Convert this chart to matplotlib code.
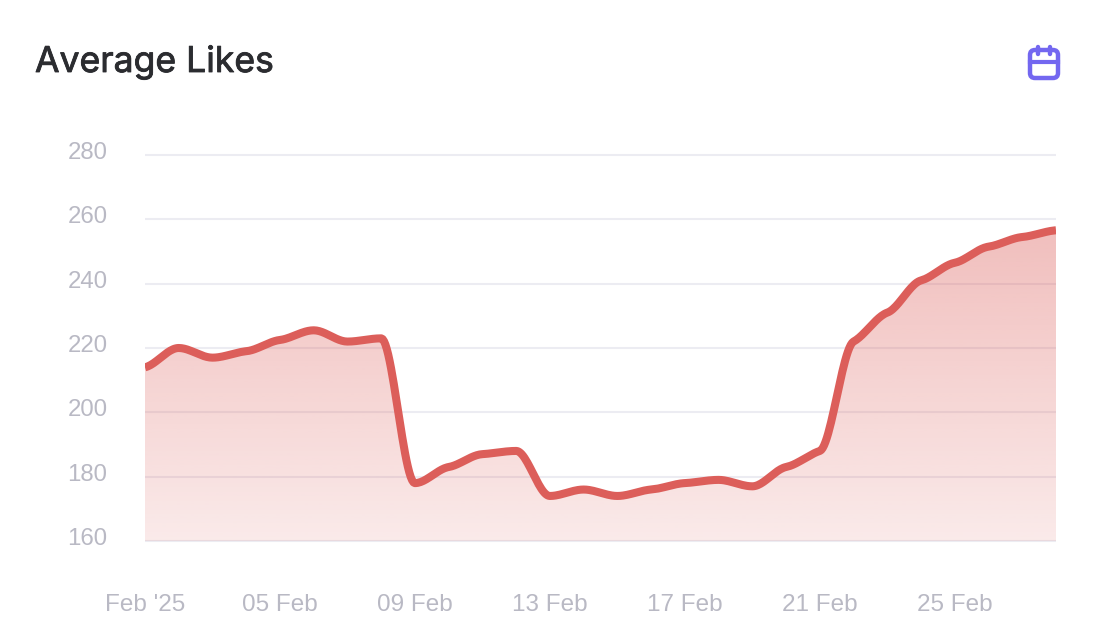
import numpy as np
import matplotlib
matplotlib.use("Agg")
import matplotlib.pyplot as plt
import matplotlib.patheffects as pe
from matplotlib.patches import FancyBboxPatch, PathPatch
from matplotlib.path import Path
from matplotlib.colors import to_rgb
from matplotlib.transforms import ScaledTranslation

days = list(range(1, 29))
likes = [214, 220, 217, 219, 222.5, 225.5, 222, 223, 178, 183, 187, 188, 174, 176,
         174, 176, 178, 179, 177, 183, 188, 222, 231, 241, 246.5, 251.5, 254.5, 256.6]
tick_days = [1, 5, 9, 13, 17, 21, 25]
tick_labels = ["Feb '25", "05 Feb", "09 Feb", "13 Feb", "17 Feb", "21 Feb", "25 Feb"]
y_ticks = [160, 180, 200, 220, 240, 260, 280]
title = "Average Likes"

W, H = 1112, 644
LINE = "#DC5E5A"
GRID = "#ECECF2"
LABEL = "#B9B9C4"
ICON = "#7367F0"
TITLE = "#2B2C30"


def smooth(x, y, tension=0.4, per=24):
    """Cubic curve through the points with shortened monotone tangents."""
    x, y = np.asarray(x, float), np.asarray(y, float)
    h = np.diff(x)
    s = np.diff(y) / h
    m = np.zeros_like(y)
    m[0], m[-1] = s[0], s[-1]
    for i in range(1, len(y) - 1):
        if s[i - 1] * s[i] > 0:
            m[i] = 2 * s[i - 1] * s[i] / (s[i - 1] + s[i])
    m = m * tension
    xs, ys = [], []
    for i in range(len(h)):
        t = np.linspace(0, 1, per, endpoint=False)
        a = (2 * t**3 - 3 * t**2 + 1) * y[i] + (t**3 - 2 * t**2 + t) * h[i] * m[i]
        b = (-2 * t**3 + 3 * t**2) * y[i + 1] + (t**3 - t**2) * h[i] * m[i + 1]
        xs.append(x[i] + t * h[i])
        ys.append(a + b)
    return np.r_[np.concatenate(xs), x[-1]], np.r_[np.concatenate(ys), y[-1]]


fig = plt.figure(figsize=(W / 100, H / 100), dpi=100, facecolor="white")
L, R, T, B = 145, 1056, 155, 541
ax = fig.add_axes([L / W, 1 - B / H, (R - L) / W, (B - T) / H])
ax.set_xlim(days[0], days[-1])
ax.set_ylim(y_ticks[0], y_ticks[-1])
for s in ax.spines.values():
    s.set_visible(False)

for v in y_ticks:
    ax.axhline(v, color=GRID, lw=1.5, zorder=1, clip_on=False, solid_capstyle="butt")

cx, cy = smooth(days, likes)

# Vertical gradient fill clipped to the area under the curve
rgb = to_rgb(LINE)
alpha = np.linspace(0.40, 0.13, 256).reshape(-1, 1)
img = np.zeros((256, 1, 4))
img[..., :3] = rgb
img[..., 3] = alpha
im = ax.imshow(img, extent=[days[0], days[-1], y_ticks[0], max(likes)], aspect="auto",
               origin="upper", zorder=2, interpolation="bilinear")
ax.set_xlim(days[0], days[-1])
ax.set_ylim(y_ticks[0], y_ticks[-1])
verts = np.r_[np.c_[cx, cy], [[days[-1], y_ticks[0]], [days[0], y_ticks[0]], [cx[0], cy[0]]]]
clip = PathPatch(Path(verts), transform=ax.transData, fc="none", ec="none")
ax.add_patch(clip)
im.set_clip_path(clip)

ax.plot(cx, cy, color=LINE, lw=5.8, zorder=3, solid_capstyle="butt", solid_joinstyle="round")

font = ["Liberation Sans", "DejaVu Sans"]
ax.set_yticks(y_ticks)
ax.set_yticklabels([str(v) for v in y_ticks], fontsize=17.3, color=LABEL, family=font)
ax.set_xticks(tick_days)
ax.set_xticklabels(tick_labels, fontsize=17.5, color=LABEL, family=font)
ax.tick_params(axis="both", length=0)
ax.tick_params(axis="y", pad=27)
ax.tick_params(axis="x", pad=38)
lift = ScaledTranslation(0, 4.5 / 100, fig.dpi_scale_trans)
for t in ax.get_yticklabels():
    t.set_transform(t.get_transform() + lift)

# Overlay in pixel coordinates for the title and icon
ov = fig.add_axes([0, 0, 1, 1], facecolor="none")
ov.set_xlim(0, W)
ov.set_ylim(H, 0)
ov.axis("off")
ov.text(35, 72, title, fontsize=25.6, color=TITLE, family=["Inter", "DejaVu Sans"],
        fontweight="regular", va="baseline", ha="left",
        path_effects=[pe.withStroke(linewidth=0.6, foreground=TITLE)])
ov.add_patch(FancyBboxPatch((1030, 50), 28, 28, boxstyle="round,pad=0,rounding_size=5",
                            fc="none", ec=ICON, lw=3.2))
ov.plot([1030, 1058], [62, 62], color=ICON, lw=3)
ov.plot([1038, 1038], [47, 54], color=ICON, lw=3.2, solid_capstyle="round")
ov.plot([1050, 1050], [47, 54], color=ICON, lw=3.2, solid_capstyle="round")

fig.savefig("out.png", dpi=100)
